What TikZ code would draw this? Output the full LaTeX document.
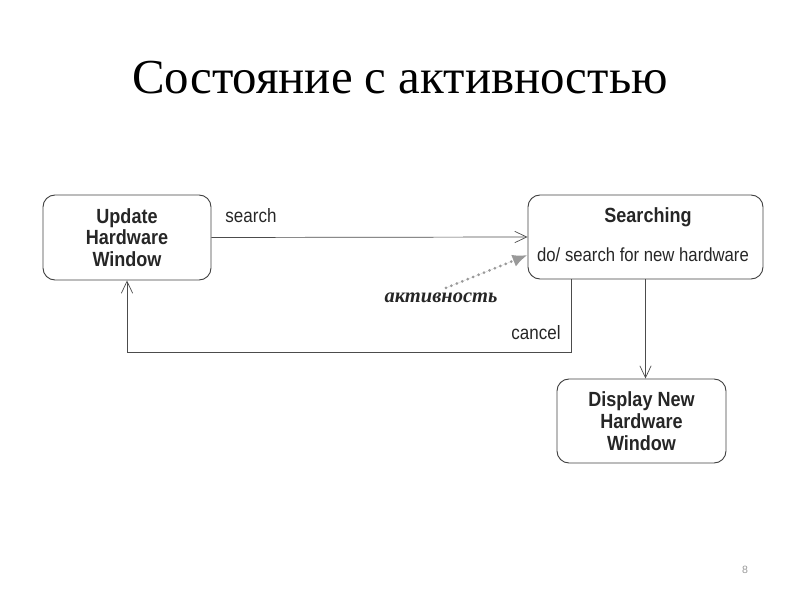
\documentclass[tikz,border=0pt]{standalone}
\usepackage{fontspec}
\setmainfont{Liberation Serif}
\setsansfont{Liberation Sans}
\newfontfamily\condsans[FakeStretch=0.88]{Liberation Sans}
\usetikzlibrary{arrows.meta}

\tikzset{
  state/.style={draw=black!75, line width=0.8pt, rounded corners=3.6mm,
    align=center, font=\condsans\bfseries\fontsize{17.5}{18.5}\selectfont, text=black!85},
  flow/.style={draw=black!70, line width=0.6pt, -{Straight Barb[length=3.6mm,width=3.4mm]}},
  guard/.style={font=\condsans\fontsize{16.5}{18}\selectfont, text=black!85}
}

\begin{document}
\begin{tikzpicture}[x=0.3mm,y=-0.3mm]
            \useasboundingbox (0,0) rectangle (800,600);

            \node[font=\fontsize{41.7}{46}\selectfont] (title) at (400,78) {Состояние с активностью};

            \node[state, minimum width=50.4mm, minimum height=25.5mm] (upd) at (127,237.5) {Update\\Hardware\\Window};
            \node[state, minimum width=70.5mm, minimum height=25.2mm] (srch) at (645.5,237) {};
            \node[font=\condsans\bfseries\fontsize{17.5}{18.5}\selectfont, text=black!85] (srchname) at (648,217) {Searching};
            \node[font=\condsans\fontsize{16.2}{18}\selectfont, text=black!85] (srchdo) at (643,255) {do/ search for new hardware};
            \node[state, minimum width=50.7mm, minimum height=25.2mm] (disp) at (641.5,421) {Display New\\Hardware\\Window};

            \coordinate (cx) at (571,352);

            \draw[flow] (upd.east) -- (srch.west);
            \draw[flow] (srch.south -| cx) -- (cx) -| (upd.south);
            \draw[flow] (srch.south) -- (srch.south |- disp.north);

            \node[guard] (search) at (251,216) {search};
            \node[guard] (cancel) at (536,333) {cancel};

            \node[font=\bfseries\itshape\fontsize{17.5}{19}\selectfont, text=black!85] (act) at (441,298) {активность};
            \draw[draw=black!40, fill=black!40, line width=2.6pt, line cap=round, dash pattern=on 0pt off 5pt, -{Latex[length=4.5mm,width=3.8mm]}] (act.north) ++(5,-1) -- ([yshift=-5.4mm]srch.west);

            \node[font=\sffamily\fontsize{9}{10}\selectfont, text=black!40] (page) at (745,570) {8};
        \end{tikzpicture}
\end{document}
